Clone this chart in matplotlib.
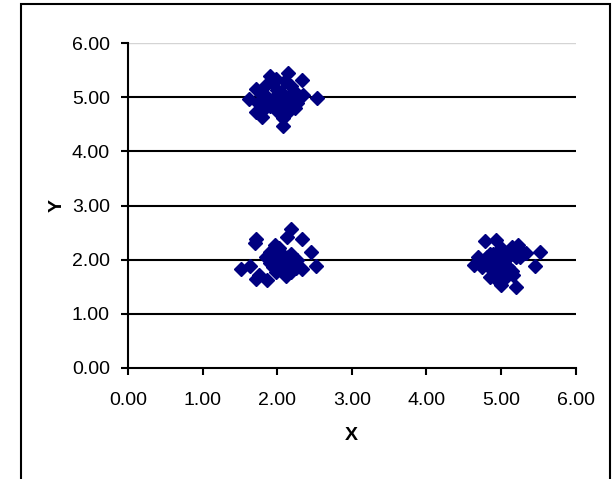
import numpy as np
import matplotlib.pyplot as plt
from matplotlib.patches import Rectangle

plt.rcParams['font.family'] = ['Liberation Sans', 'DejaVu Sans']

# cluster around (2, 5)
x_top = [1.62, 1.71, 1.91, 1.85, 2.14, 2.33, 2.35, 2.54, 2.24, 2.08, 2.08, 1.80,
         1.71, 1.95, 2.00, 2.19, 2.16, 1.90, 2.06, 2.13, 1.95, 1.74, 2.21, 2.03,
         1.85, 2.27, 1.98, 2.10, 2.05, 1.95, 2.15, 1.78, 1.83, 2.25, 2.10, 1.98]
y_top = [4.96, 5.15, 5.40, 5.22, 5.44, 5.32, 5.04, 4.98, 4.80, 4.46, 4.62, 4.64,
         4.73, 4.96, 5.14, 5.20, 5.02, 4.83, 4.89, 4.71, 5.27, 4.89, 4.96, 5.05,
         5.02, 4.89, 4.77, 4.95, 5.10, 4.85, 4.85, 5.05, 4.78, 5.08, 5.30, 5.33]

# cluster around (2, 2)
x_left = [1.51, 1.64, 1.71, 1.70, 1.71, 1.76, 1.87, 2.12, 2.19, 2.13, 2.33, 2.46,
          2.52, 2.33, 2.27, 1.97, 1.85, 1.90, 2.01, 2.06, 1.95, 2.11, 2.03, 2.16,
          1.92, 2.09, 1.98, 2.19, 1.90, 2.13, 2.05, 2.00, 2.10, 1.95, 2.15, 2.00,
          2.20, 2.25, 2.18]
y_left = [1.82, 1.89, 2.39, 2.31, 1.65, 1.71, 1.63, 1.69, 2.56, 2.42, 2.39, 2.14,
          1.88, 1.82, 1.99, 2.27, 2.05, 1.93, 2.11, 1.93, 1.87, 2.05, 2.21, 1.90,
          2.02, 1.80, 1.77, 2.11, 2.14, 1.99, 2.00, 2.05, 1.95, 2.00, 2.05, 1.85,
          1.92, 1.85, 1.78]

# cluster around (5, 2)
x_right = [4.64, 4.69, 4.79, 4.94, 4.74, 4.86, 4.93, 5.00, 5.20, 5.16, 5.33, 5.46,
           5.53, 5.15, 5.23, 5.10, 5.04, 4.83, 4.89, 4.94, 5.02, 4.81, 4.97, 5.10,
           5.20, 4.76, 5.15, 4.89, 5.26, 5.00, 4.90, 5.05, 4.85, 5.12, 4.72, 4.98,
           5.08, 4.84, 5.25]
y_right = [1.91, 2.05, 2.34, 2.37, 1.87, 1.68, 1.65, 1.53, 1.50, 1.72, 2.13, 1.88,
           2.14, 2.24, 2.27, 2.05, 1.93, 1.99, 2.11, 1.87, 2.09, 2.05, 1.99, 1.87,
           2.05, 1.93, 1.80, 1.80, 2.17, 2.21, 2.00, 2.00, 2.10, 2.12, 1.98, 1.75,
           1.70, 1.92, 2.05]

ticks = [0, 1, 2, 3, 4, 5, 6]
tick_labels = ['%.2f' % t for t in ticks]

fig = plt.figure(figsize=(6.13, 4.79), dpi=100)
# outer chart border (bottom edge runs off the image)
fig.patches.append(Rectangle((21 / 613, -0.05), (610 - 21) / 613, 1.05 - 4 / 479,
                             transform=fig.transFigure, fill=False,
                             edgecolor='black', linewidth=1.5))

ax = fig.add_axes([128 / 613, 1 - 368 / 479, (575.5 - 128) / 613, (368 - 43) / 479])

x = np.array(x_top + x_left + x_right)
y = np.array(y_top + y_left + y_right)
ax.plot(x, y, linestyle='none', marker='D', markersize=7, color='#000080',
        markeredgecolor='#000080', zorder=3, clip_on=False)

ax.set_xlim(0, 6)
ax.set_ylim(0, 6)
ax.set_xticks(ticks)
ax.set_xticklabels(tick_labels)
ax.set_yticks(ticks)
ax.set_yticklabels(tick_labels)

for t in ticks[1:]:
    if t == 6:
        ax.axhline(t, color='#d4d4d4', linewidth=1.0, zorder=1)
    else:
        ax.axhline(t, color='black', linewidth=1.5, zorder=1)

for s in ['top', 'right']:
    ax.spines[s].set_visible(False)
for s in ['left', 'bottom']:
    ax.spines[s].set_linewidth(1.5)

ax.tick_params(direction='out', length=5, width=1.5, labelsize=14)
ax.tick_params(axis='x', pad=12)
ax.tick_params(axis='y', pad=8)
ax.set_xlabel('X', fontsize=14, fontweight='bold', labelpad=13)
ax.set_ylabel('Y', fontsize=14, fontweight='bold', labelpad=4.5)

fig.savefig('out.png', dpi=100)
